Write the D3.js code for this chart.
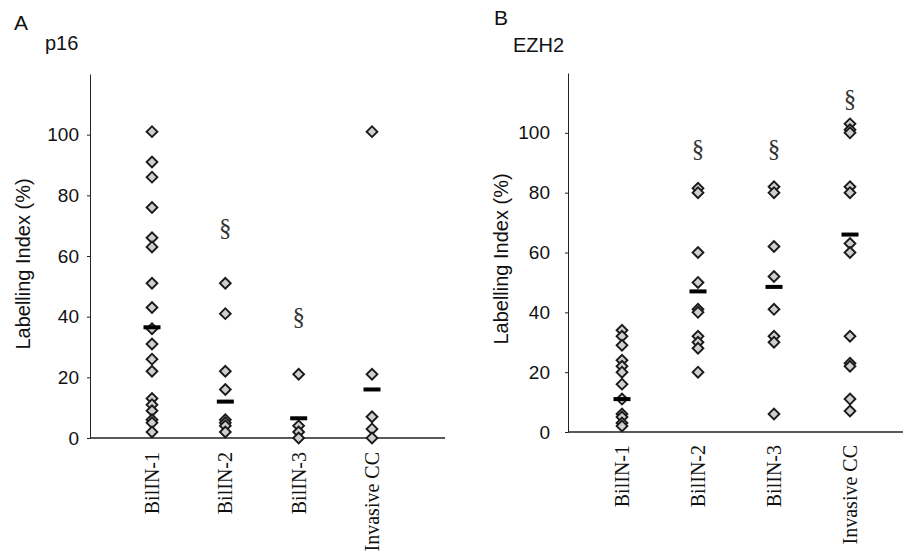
<!DOCTYPE html>
<html>
<head>
<meta charset="utf-8">
<script src="https://cdn.jsdelivr.net/npm/d3@7"></script>
<style>
  body { margin: 0; background: #fff; }
  text { fill: #111; }
  .axis path, .axis line { stroke: #222; }
  .axis text { font-family: "Liberation Sans", Arial, sans-serif; font-size: 19px; fill: #111; }
</style>
</head>
<body>
<div id="chart"></div>
<script>
// categories shared by both panels
var categories = ["BilIN-1", "BilIN-2", "BilIN-3", "Invasive CC"];
var yTicks = [0, 20, 40, 60, 80, 100];

// panel A: p16 labelling index, one list per category
var p16Values = [
  [101, 91, 86, 76, 66, 63, 51, 43, 36, 31, 26, 22, 13, 11, 9, 6, 5, 2],
  [51, 41, 22, 16, 6, 5, 4, 2],
  [21, 4, 2, 0],
  [101, 21, 7, 3, 0]
];
var p16Medians = [36.5, 12, 6.5, 16];
var p16Marks = [null, 69.5, 40, null];   // § positions

// panel B: EZH2
var ezh2Values = [
  [34, 32, 29, 24, 22, 20, 16, 11, 6, 5, 3, 2],
  [81.5, 80, 60, 50, 41, 40, 32, 30, 28, 20],
  [82, 80, 62, 52, 41, 32, 30, 6],
  [103, 101, 100, 82, 80, 63, 60, 32, 23, 22, 11, 7]
];
var ezh2Medians = [11, 47, 48.5, 66];
var ezh2Marks = [null, 95, 95, 111.5];

var svg = d3.select("#chart").append("svg")
    .attr("width", 909)
    .attr("height", 556);

var diamond = d3.symbol().type(d3.symbolSquare).size(58);

function drawPanel(o) {
  var g = svg.append("g");

  var x = d3.scalePoint().domain(categories).range([o.col0, o.col1]);
  var y = d3.scaleLinear().domain([0, 120]).range([o.bottom, o.top]);

  // y axis
  g.append("g")
      .attr("class", "axis")
      .attr("transform", "translate(" + o.left + ",0)")
      .call(d3.axisLeft(y).tickValues(yTicks).tickSize(3).tickSizeOuter(0).tickPadding(o.pad));

  // x axis line (no ticks)
  g.append("line")
      .attr("x1", o.left).attr("x2", o.right)
      .attr("y1", o.bottom).attr("y2", o.bottom)
      .attr("stroke", "#222").attr("stroke-width", 1.6);

  // category labels, rotated
  g.selectAll(".cat")
      .data(categories)
      .enter().append("text")
      .attr("class", "cat")
      .attr("transform", function(d) { return "translate(" + x(d) + "," + o.labTop + ") rotate(-90)"; })
      .attr("dy", "0.35em")
      .style("text-anchor", "end")
      .style("font-family", "'Liberation Serif', 'Times New Roman', serif")
      .style("font-size", "20px")
      .text(function(d) { return d; });

  // y axis title
  g.append("text")
      .attr("transform", "translate(" + o.titleX + "," + o.titleY + ") rotate(-90)")
      .style("text-anchor", "middle")
      .style("font-family", "'Liberation Sans', Arial, sans-serif")
      .style("font-size", "20px")
      .text("Labelling Index (%)");

  // points
  var pts = [];
  o.values.forEach(function(arr, i) {
    arr.forEach(function(v) { pts.push({ cat: categories[i], v: v }); });
  });
  g.selectAll(".pt")
      .data(pts)
      .enter().append("path")
      .attr("class", "pt")
      .attr("d", diamond)
      .attr("transform", function(d) { return "translate(" + x(d.cat) + "," + y(d.v) + ") rotate(45)"; })
      .attr("fill", "#cfcfcf")
      .attr("stroke", "#1a1a1a")
      .attr("stroke-width", 1.9);

  // median bars
  g.selectAll(".med")
      .data(o.medians)
      .enter().append("rect")
      .attr("class", "med")
      .attr("x", function(d, i) { return x(categories[i]) - 8.5; })
      .attr("y", function(d) { return y(d) - 2; })
      .attr("width", 17)
      .attr("height", 4)
      .attr("fill", "#000");

  // significance marks
  g.selectAll(".sig")
      .data(o.marks.map(function(d, i) { return { cat: categories[i], v: d }; })
                   .filter(function(d) { return d.v !== null; }))
      .enter().append("text")
      .attr("class", "sig")
      .attr("x", function(d) { return x(d.cat); })
      .attr("y", function(d) { return y(d.v); })
      .attr("dy", "0.35em")
      .style("text-anchor", "middle")
      .style("font-family", "'Liberation Serif', 'Times New Roman', serif")
      .style("font-size", "25px")
      .style("fill", "#333")
      .text("\u00a7");

  // panel letter and marker name
  g.append("text")
      .attr("x", o.letterX).attr("y", o.letterY)
      .style("font-family", "'Liberation Sans', Arial, sans-serif")
      .style("font-size", "21px")
      .text(o.letter);
  g.append("text")
      .attr("x", o.nameX).attr("y", o.nameY)
      .style("font-family", "'Liberation Sans', Arial, sans-serif")
      .style("font-size", "20px")
      .text(o.name);
}

drawPanel({
  values: p16Values, medians: p16Medians, marks: p16Marks,
  left: 90, right: 445, top: 74, bottom: 438, col0: 152, col1: 372, pad: 8,
  labTop: 452, titleX: 30, titleY: 264,
  letter: "A", letterX: 14, letterY: 30, name: "p16", nameX: 45, nameY: 50
});

drawPanel({
  values: ezh2Values, medians: ezh2Medians, marks: ezh2Marks,
  left: 568, right: 903, top: 73, bottom: 432, col0: 622, col1: 850, pad: 15,
  labTop: 445, titleX: 508, titleY: 259,
  letter: "B", letterX: 494, letterY: 25, name: "EZH2", nameX: 513, nameY: 52
});
</script>
</body>
</html>
